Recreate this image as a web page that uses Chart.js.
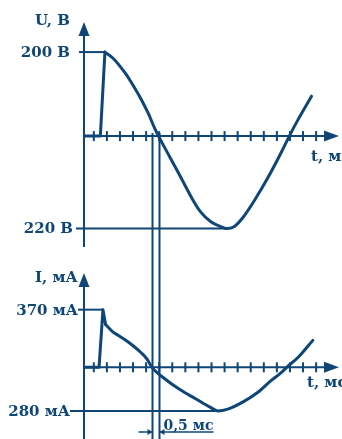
<!DOCTYPE html>
<html>
<head>
<meta charset="utf-8">
<script src="https://cdn.jsdelivr.net/npm/chart.js@4.4.1/dist/chart.umd.min.js"></script>
<style>
  html, body { margin: 0; padding: 0; background: #fff; }
  #wrap { position: relative; width: 342px; height: 439px; overflow: hidden; }
  canvas { position: absolute; left: 0; }
  #voltage { top: 0; }
  #current { top: 252px; }
</style>
</head>
<body>
<div id="wrap">
  <canvas id="voltage" width="342" height="252"></canvas>
  <canvas id="current" width="342" height="187"></canvas>
</div>
<script>
// voltage U, В against time t, мс
const uTime  = [0, 1.25, 1.6, 2.2, 3.1, 3.75, 4.4, 4.9, 5.4, 5.7, 6.6, 7.4, 8.2, 8.9, 9.7, 10.5, 10.9, 11.5, 12.2, 13.1, 14.1, 15.1, 15.7, 16.4, 17.4];
const uValue = [0, 0, 200, 186, 152, 121, 86, 55, 19, 0, -52, -98, -145, -180, -204, -216, -220, -215, -192, -150, -97, -38, 0, 41, 95];
const uStepEnd = 2;   // switch-on jump, drawn straight

// current I, мА
const iTime  = [0, 1.15, 1.45, 1.65, 2.2, 2.75, 3.3, 3.8, 4.35, 4.8, 5.2, 6.2, 7.3, 8.6, 9.6, 10.25, 11.0, 12.2, 13.3, 14.3, 15.1, 15.5, 16.4, 17.5];
const iValue = [0, 0, 370, 275, 228, 198, 167, 135, 95, 55, 0, -75, -141, -205, -254, -280, -268, -220, -160, -85, -33, 0, 66, 173];
const iStepEnd = 3;

// marked levels and their labels
const uMarks = [200, -220];
const uMarkLabels = ['200 В', '220 В'];
const iMarks = [370, -280];
const iMarkLabels = ['370 мА', '280 мА'];

// tick marks on the time axes, мс
const tickTimes = [0.75, 1.75, 2.75, 3.75, 4.75, 5.75, 6.75, 7.75, 8.75, 9.75, 10.75, 11.75, 12.75, 13.75, 14.75, 15.75, 16.75, 17.75];

// zero crossings of I and U, мс
const shiftTimes = [5.2, 5.7];
const shiftLabel = '0,5 мс';

const INK = '#0e4677';
const LABEL_FONT = 'bold 15px "DejaVu Serif"';

function pts(times, values, from, to) {
  const out = [];
  for (let k = from; k <= to; k++) out.push({ x: times[k], y: values[k] });
  return out;
}

function seg(ctx, x1, y1, x2, y2) {
  ctx.beginPath();
  ctx.moveTo(x1, y1);
  ctx.lineTo(x2, y2);
  ctx.stroke();
}

function tri(ctx, a, b, c) {
  ctx.beginPath();
  ctx.moveTo(a[0], a[1]);
  ctx.lineTo(b[0], b[1]);
  ctx.lineTo(c[0], c[1]);
  ctx.closePath();
  ctx.fill();
}

// axes with arrows, ticks, level labels, leader lines, phase lines
function sketchPlugin(cfg) {
  return {
    id: 'sketch',
    afterDatasetsDraw(chart) {
      const ctx = chart.ctx;
      const xs = chart.scales.x, ys = chart.scales.y;
      const x0 = xs.getPixelForValue(0);
      const y0 = ys.getPixelForValue(0);
      const tip = chart.chartArea.right;
      const h = chart.height;

      ctx.save();
      ctx.strokeStyle = INK;
      ctx.fillStyle = INK;
      ctx.lineWidth = 2;

      // value axis
      seg(ctx, x0, cfg.axisTop + 10, x0, cfg.axisBottom);
      tri(ctx, [x0, cfg.axisTop], [x0 - 5.5, cfg.axisTop + 14], [x0 + 5.5, cfg.axisTop + 14]);

      // time axis
      seg(ctx, x0 - 1, y0, tip - 10, y0);
      tri(ctx, [tip, y0], [tip - 15, y0 - 5.5], [tip - 15, y0 + 5.5]);
      tickTimes.forEach(t => {
        const px = xs.getPixelForValue(t);
        seg(ctx, px, y0 - 5, px, y0 + 5);
      });

      // phase lines through the zero crossings
      shiftTimes.forEach(t => {
        const px = Math.round(xs.getPixelForValue(t)) + 0.5;
        seg(ctx, px, cfg.shiftTop === null ? y0 - 3 : cfg.shiftTop, px, h);
      });

      // level labels with leaders to the curve
      ctx.font = LABEL_FONT;
      ctx.textBaseline = 'middle';
      ctx.textAlign = 'right';
      cfg.marks.forEach((v, k) => {
        const py = ys.getPixelForValue(v);
        const idx = cfg.values.indexOf(v);
        const px = xs.getPixelForValue(cfg.times[idx]) + cfg.leadExtra[k];
        ctx.fillText(cfg.markLabels[k], cfg.labelRight[k], py + 1);
        seg(ctx, cfg.leadStart[k], py, px, py);
      });

      // axis names
      ctx.textAlign = 'left';
      ctx.textBaseline = 'alphabetic';
      ctx.fillText(cfg.axisName, 35, cfg.axisNameY);
      ctx.fillText('t, мс', cfg.timeNameX, y0 + cfg.timeNameDy);

      // 0,5 мс dimension between the phase lines
      if (cfg.dimension) {
        const dy = cfg.dimension;
        const a = Math.round(xs.getPixelForValue(shiftTimes[0])) + 0.5;
        const b = Math.round(xs.getPixelForValue(shiftTimes[1])) + 0.5;
        ctx.lineWidth = 1.5;
        seg(ctx, a - 14, dy, a, dy);
        seg(ctx, b, dy, b + 54, dy);
        tri(ctx, [a, dy], [a - 5, dy - 3], [a - 5, dy + 3]);
        tri(ctx, [b, dy], [b + 5, dy - 3], [b + 5, dy + 3]);
        ctx.font = 'bold 14px "DejaVu Serif"';
        ctx.fillText(shiftLabel, b + 4, dy - 2);
      }
      ctx.restore();
    }
  };
}

function buildChart(id, times, values, stepEnd, yMin, yMax, plugin) {
  const line = { borderColor: INK, borderWidth: 3, pointRadius: 0, fill: false,
                 borderCapStyle: 'round', borderJoinStyle: 'round' };
  return new Chart(document.getElementById(id), {
    type: 'line',
    data: {
      datasets: [
        Object.assign({ data: pts(times, values, 0, stepEnd), tension: 0 }, line),
        Object.assign({ data: pts(times, values, stepEnd, times.length - 1),
                        cubicInterpolationMode: 'monotone' }, line)
      ]
    },
    options: {
      responsive: false,
      animation: false,
      layout: { padding: { left: 84, right: 3, top: 0, bottom: 0 } },
      scales: {
        x: { type: 'linear', min: 0, max: 19.5, display: false },
        y: { min: yMin, max: yMax, display: false }
      },
      plugins: { legend: { display: false }, tooltip: { enabled: false } }
    },
    plugins: [plugin]
  });
}

buildChart('voltage', uTime, uValue, uStepEnd, -276, 324, sketchPlugin({
  times: uTime, values: uValue, marks: uMarks, markLabels: uMarkLabels,
  labelRight: [70, 73], leadStart: [79, 76], leadExtra: [0, 2],
  axisTop: 22, axisBottom: 247, axisName: 'U, В', axisNameY: 25,
  timeNameX: 311, timeNameDy: 25, shiftTop: null, dimension: 0
}));

buildChart('current', iTime, iValue, iStepEnd, -460, 740, sketchPlugin({
  times: iTime, values: iValue, marks: iMarks, markLabels: iMarkLabels,
  labelRight: [78, 70], leadStart: [78, 70], leadExtra: [0, 2],
  axisTop: 21, axisBottom: 187, axisName: 'I, мА', axisNameY: 30,
  timeNameX: 307, timeNameDy: 20, shiftTop: 0, dimension: 180
}));
</script>
</body>
</html>
